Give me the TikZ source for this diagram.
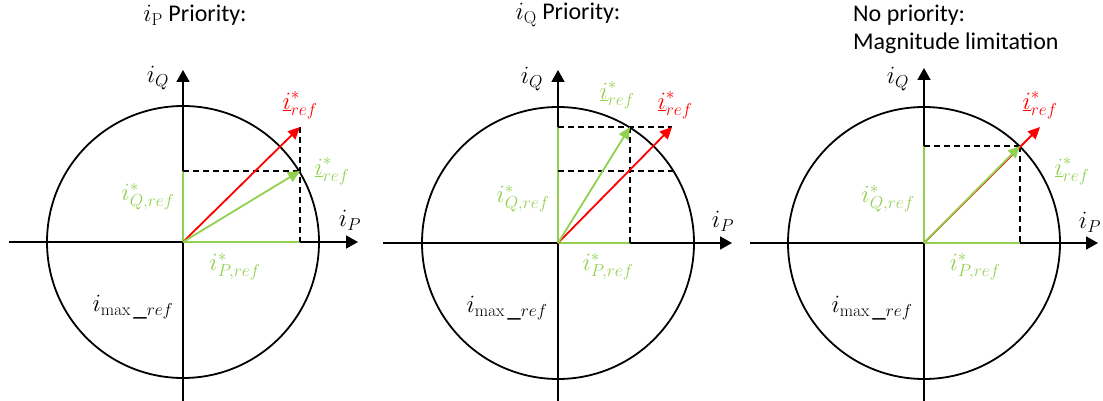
\documentclass[tikz,border=0pt]{standalone}
\usepackage[no-math]{fontspec}
\setmainfont{Carlito}
\usetikzlibrary{arrows.meta}
\definecolor{lgreen}{RGB}{146,208,80}
\begin{document}
\begin{tikzpicture}[x=1pt,y=-1pt,
 axis/.style={line width=1.8pt,-{Triangle[length=12pt,width=13pt]}},
 circ/.style={line width=1.8pt},
 vec/.style={line width=1.8pt,-{Triangle[length=12pt,width=11pt]}},
 redvec/.style={vec,red},
 grnvec/.style={vec,lgreen},
 comp/.style={line width=2.6pt,lgreen},
 guide/.style={line width=1.6pt,dash pattern=on 6pt off 4pt},
 lbl/.style={font=\fontsize{27}{32}\selectfont, inner sep=0pt},
 ttl/.style={font=\fontsize{24}{28}\selectfont, inner sep=0pt}]
\useasboundingbox (0,0) rectangle (1103,401);
% ---------- panel 1 ----------
\coordinate (O1) at (183,242);
\coordinate (X1s) at (9,242); \coordinate (X1e) at (358,242);
\coordinate (Y1s) at (183,401); \coordinate (Y1e) at (183,70);
\coordinate (R1) at (300,127);
\coordinate (G1) at (300,171);
\coordinate (GQ1) at (183,171); \coordinate (GP1) at (300,242);
\draw[circ] (O1) circle[radius=136pt];
\draw[axis] (X1s) -- (X1e);
\draw[axis] (Y1s) -- (Y1e);
\draw[comp] (O1) -- (GQ1);
\draw[comp] (O1) -- (GP1);
\draw[guide] (GQ1) -- (G1);
\draw[guide] (R1) -- (GP1);
\draw[redvec] (O1) -- (R1);
\draw[grnvec] (O1) -- (G1);
\node[ttl] (T1) at (195,15) {$i_{\mathrm{P}}$ Priority:};
\node[lbl] (LQ1) at (158,78) {$i_Q$};
\node[lbl] (LP1) at (350,220) {$i_P$};
\node[lbl,red] (LR1) at (300,105) {$\underline{i}^*_{ref}$};
\node[lbl,lgreen] (LG1) at (332,171) {$\underline{i}^*_{ref}$};
\node[lbl,lgreen] (LGQ1) at (148,197) {$i^*_{Q,ref}$};
\node[lbl,lgreen] (LGP1) at (235,267) {$i^*_{P,ref}$};
\node[lbl] (LM1) at (133,307) {$i_{\mathrm{max}\,\_ref}$};
% ---------- panel 2 ----------
\coordinate (O2) at (558,243);
\coordinate (X2s) at (383,243); \coordinate (X2e) at (732,243);
\coordinate (Y2s) at (558,401); \coordinate (Y2e) at (558,70);
\coordinate (R2) at (672,127);
\coordinate (G2) at (630,127);
\coordinate (GQ2) at (558,127); \coordinate (GP2) at (630,243);
\coordinate (HQ2) at (558,171); \coordinate (HE2) at (676,171);
\draw[circ] (O2) circle[radius=136pt];
\draw[axis] (X2s) -- (X2e);
\draw[axis] (Y2s) -- (Y2e);
\draw[comp] (O2) -- (GQ2);
\draw[comp] (O2) -- (GP2);
\draw[guide] (GQ2) -- (R2);
\draw[guide] (HQ2) -- (HE2);
\draw[guide] (G2) -- (GP2);
\draw[redvec] (O2) -- (R2);
\draw[grnvec] (O2) -- (G2);
\node[ttl] (T2) at (568,15) {$i_{\mathrm{Q}}$ Priority:};
\node[lbl] (LQ2) at (532,79) {$i_Q$};
\node[lbl] (LP2) at (723,221) {$i_P$};
\node[lbl,red] (LR2) at (675,105) {$\underline{i}^*_{ref}$};
\node[lbl,lgreen] (LG2) at (617,95) {$\underline{i}^*_{ref}$};
\node[lbl,lgreen] (LGQ2) at (523,199) {$i^*_{Q,ref}$};
\node[lbl,lgreen] (LGP2) at (608,267) {$i^*_{P,ref}$};
\node[lbl] (LM2) at (507,308) {$i_{\mathrm{max}\,\_ref}$};
% ---------- panel 3 ----------
\coordinate (O3) at (924,243);
\coordinate (X3s) at (750,243); \coordinate (X3e) at (1098,243);
\coordinate (Y3s) at (924,401); \coordinate (Y3e) at (924,68);
\coordinate (R3) at (1040,127);
\coordinate (G3) at (1020,146);
\coordinate (GQ3) at (924,146); \coordinate (GP3) at (1020,243);
\draw[circ] (O3) circle[radius=136pt];
\draw[axis] (X3s) -- (X3e);
\draw[axis] (Y3s) -- (Y3e);
\draw[comp] (O3) -- (GQ3);
\draw[comp] (O3) -- (GP3);
\draw[guide] (GQ3) -- (G3);
\draw[guide] (G3) -- (GP3);
\draw[redvec] (O3) -- (R3);
\draw[grnvec] (O3) -- (G3);
\node[ttl,anchor=west] (T3a) at (853,15) {No priority:};
\node[ttl,anchor=west] (T3b) at (853,43) {Magnitude limitation};
\node[lbl] (LQ3) at (898,79) {$i_Q$};
\node[lbl] (LP3) at (1090,222) {$i_P$};
\node[lbl,red] (LR3) at (1040,105) {$\underline{i}^*_{ref}$};
\node[lbl,lgreen] (LG3) at (1072,171) {$\underline{i}^*_{ref}$};
\node[lbl,lgreen] (LGQ3) at (888,199) {$i^*_{Q,ref}$};
\node[lbl,lgreen] (LGP3) at (975,267) {$i^*_{P,ref}$};
\node[lbl] (LM3) at (872,308) {$i_{\mathrm{max}\,\_ref}$};
\end{tikzpicture}
\end{document}
